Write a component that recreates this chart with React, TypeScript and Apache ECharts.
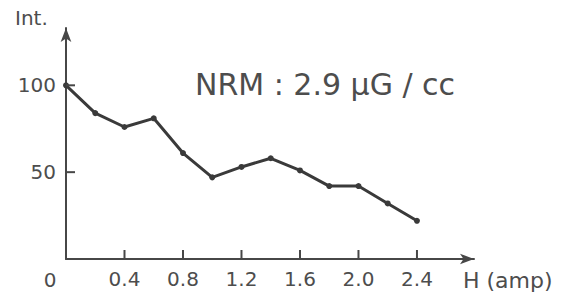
import React, { useEffect, useRef } from "react";
import * as echarts from "echarts";

const fieldAmp = [0, 0.2, 0.4, 0.6, 0.8, 1.0, 1.2, 1.4, 1.6, 1.8, 2.0, 2.2, 2.4];
const intensity = [100, 84, 76, 81, 61, 47, 53, 58, 51, 42, 42, 32, 22];
const xTickValues = [0.4, 0.8, 1.2, 1.6, 2.0, 2.4];
const yTickValues = [50, 100];
const titleText = "NRM : 2.9 μG / cc";
const yAxisName = "Int.";
const xAxisName = "H (amp)";

const INK = "#474747";
const TEXT = "#4d4d4d";
const FONT = "DejaVu Sans";

const near = (v: number, list: number[]) => list.some((t) => Math.abs(t - v) < 1e-6);

export default function App() {
  const ref = useRef<HTMLDivElement>(null);
  useEffect(() => {
    if (!ref.current) return;
    const chart = echarts.init(ref.current, undefined, { renderer: "svg" });
    chart.setOption({
      animation: false,
      backgroundColor: "#ffffff",
      grid: { left: 66, right: 107, top: 28, bottom: 39 },
      xAxis: {
        type: "value",
        min: 0,
        max: 2.79,
        interval: 0.4,
        axisLine: {
          show: true,
          symbol: ["none", "arrow"],
          symbolSize: [8, 14],
          lineStyle: { color: INK, width: 2 },
        },
        axisTick: { show: false },
        axisLabel: {
          show: true,
          margin: 10,
          color: TEXT,
          fontFamily: FONT,
          fontSize: 20,
          showMinLabel: false,
          formatter: (v: number) => (near(v, xTickValues) ? v.toFixed(1) : ""),
        },
        splitLine: { show: false },
      },
      yAxis: {
        type: "value",
        min: 0,
        max: 133,
        interval: 50,
        axisLine: {
          show: true,
          symbol: ["none", "arrow"],
          symbolSize: [8, 14],
          lineStyle: { color: INK, width: 2 },
        },
        axisTick: { show: false },
        axisLabel: {
          show: true,
          margin: 10,
          color: TEXT,
          fontFamily: FONT,
          fontSize: 20,
          showMinLabel: false,
          formatter: (v: number) => (near(v, yTickValues) ? String(v) : ""),
        },
        splitLine: { show: false },
      },
      graphic: [
        {
          type: "text",
          left: 15,
          top: 8,
          style: { text: yAxisName, fill: TEXT, font: `20px "${FONT}"` },
        },
        {
          type: "text",
          x: 50,
          y: 280,
          style: {
            text: "0",
            fill: TEXT,
            font: `20px "${FONT}"`,
            textAlign: "center",
            textVerticalAlign: "middle",
          },
        },
        {
          type: "text",
          x: 463,
          y: 280,
          style: {
            text: xAxisName,
            fill: TEXT,
            font: `22px "${FONT}"`,
            textVerticalAlign: "middle",
          },
        },
        {
          type: "text",
          x: 195,
          y: 84,
          style: {
            text: titleText,
            fill: TEXT,
            font: `30px "${FONT}"`,
            textVerticalAlign: "middle",
          },
        },
      ],
      series: [
        {
          type: "custom",
          silent: true,
          clip: false,
          data: xTickValues.map((v) => [v, 0]),
          renderItem: (params: any, api: any) => {
            const p = api.coord([api.value(0), api.value(1)]);
            return {
              type: "rect",
              shape: { x: p[0] - 1, y: p[1] - 9, width: 2, height: 9 },
              style: { fill: INK },
            };
          },
          z: 5,
        },
        {
          type: "custom",
          silent: true,
          clip: false,
          data: yTickValues.map((v) => [0, v]),
          renderItem: (params: any, api: any) => {
            const p = api.coord([api.value(0), api.value(1)]);
            return {
              type: "rect",
              shape: { x: p[0], y: p[1] - 1, width: 9, height: 2 },
              style: { fill: INK },
            };
          },
          z: 5,
        },
        {
          type: "line",
          data: fieldAmp.map((x, i) => [x, intensity[i]]),
          symbol: "circle",
          symbolSize: 6,
          itemStyle: { color: "#3a3a3a" },
          lineStyle: { color: "#3a3a3a", width: 3 },
          z: 3,
        },
      ],
    });
    return () => chart.dispose();
  }, []);
  return <div ref={ref} style={{ width: 581, height: 298, position: "absolute", left: 0, top: 0 }} />;
}
